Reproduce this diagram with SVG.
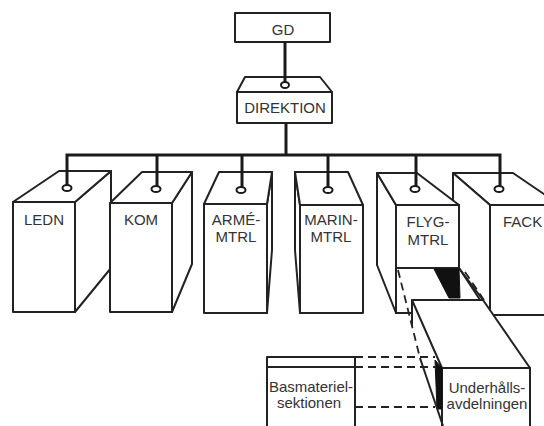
<svg xmlns="http://www.w3.org/2000/svg" width="544" height="426" viewBox="0 0 544 426">
<style>
.b{fill:#fff;stroke:#222;stroke-width:2;stroke-linejoin:round}
.l{fill:none;stroke:#222;stroke-width:2}
.t{font-family:"Liberation Sans",Arial,sans-serif;font-size:15px;fill:#333;text-anchor:middle}
.c{fill:none;stroke:#1a1a1a;stroke-width:3}
.p{fill:#fff;stroke:#1a1a1a;stroke-width:2}
.d{fill:none;stroke:#222;stroke-width:1.8;stroke-dasharray:8 5}
.k{fill:#111;stroke:#111;stroke-width:1}
</style>
<rect width="544" height="426" fill="#fff"/>
<g id="GD">
<rect class="b" x="235" y="13" width="95" height="29"/>
<text class="t" x="283" y="35">GD</text>
</g>
<g id="DIREKTION">
<polygon class="b" points="245,77 320,77 332,92 237,92"/>
<rect class="b" x="237" y="92" width="95" height="31"/>
<text class="t" x="285" y="113">DIREKTION</text>
</g>
<g id="LEDN">
<polygon class="b" points="75,202 111,171 111,268 75,312"/>
<polygon class="b" points="13,202 59,171 111,171 75,202"/>
<rect class="b" x="13" y="202" width="62" height="110"/>
<text class="t" x="44" y="225">LEDN</text>
</g>
<g id="KOM">
<polygon class="b" points="172,203 192,172 192,264 172,312"/>
<polygon class="b" points="110,203 142,172 192,172 172,203"/>
<rect class="b" x="110" y="203" width="62" height="109"/>
<text class="t" x="141" y="225">KOM</text>
</g>
<g id="ARME-MTRL">
<polygon class="b" points="267,204 272,172 272,250 267,313"/>
<polygon class="b" points="204,204 219,172 272,172 267,204"/>
<rect class="b" x="204" y="204" width="63" height="109"/>
<text class="t" x="236" y="225">ARMÉ-</text>
<text class="t" x="236" y="242">MTRL</text>
</g>
<g id="MARIN-MTRL">
<polygon class="b" points="300,205 295,172 295,250 300,313"/>
<polygon class="b" points="295,172 348,172 363,205 300,205"/>
<rect class="b" x="300" y="205" width="63" height="108"/>
<text class="t" x="331" y="225">MARIN-</text>
<text class="t" x="331" y="242">MTRL</text>
</g>
<g id="FACK">
<polygon class="b" points="453,173 513,173 560,205 490,205"/>
<polygon class="b" points="453,173 490,205 490,315 459,268 453,262"/>
<rect class="b" x="490" y="205" width="70" height="110"/>
<text class="t" x="503" y="227" style="text-anchor:start">FACK</text>
</g>
<g id="FLYG-MTRL">
<polygon class="b" points="377,173 396,205 396,313 377,265"/>
<polygon class="b" points="377,173 417,173 459,205 396,205"/>
<rect class="b" x="396" y="205" width="63" height="63"/>
<path class="l" d="M396,268V313H412"/>
<polygon class="k" points="434,269 459,269 460,298 449,298"/>
<text class="t" x="428" y="227">FLYG-</text>
<text class="t" x="428" y="245">MTRL</text>
</g>
<g id="Basmaterielsektionen">
<rect class="b" x="267" y="357" width="88" height="80"/>
<path class="l" d="M267,367H355"/>
<text class="t" x="311" y="392">Basmateriel-</text>
<text class="t" x="309" y="408">sektionen</text>
</g>
<g id="Underhallsavdelningen">
<path class="l" d="M459,268L483,300"/>
<polygon class="b" points="412,300 483,300 530,368 442,368"/>
<rect class="b" x="442" y="368" width="88" height="70"/>
<polygon class="k" points="435,360 442,368 442,409 437,409"/>
<path class="l" d="M412,300V326"/>
<path class="l" d="M420,358L443,426"/>
<text class="t" x="487" y="393">Underhålls-</text>
<text class="t" x="487" y="409">avdelningen</text>
</g>
<g id="guides">
<path class="d" d="M398,270L420,358"/>
<path class="d" d="M465,272L484,300"/>
<path class="d" d="M355,357H435M355,367H435M355,407H435"/>
</g>
<g id="connectors">
<path class="c" d="M285,42V82"/>
<path class="c" d="M286,123V155"/>
<path class="c" d="M67,186V155H500V186"/>
<path class="c" d="M157,155V186M242,155V187M328,155V187M416,155V186"/>
<ellipse class="p" cx="285" cy="85" rx="4" ry="3"/>
<ellipse class="p" cx="67" cy="188" rx="4.5" ry="3"/>
<ellipse class="p" cx="156" cy="189" rx="4.5" ry="3"/>
<ellipse class="p" cx="241" cy="190" rx="4.5" ry="3"/>
<ellipse class="p" cx="328" cy="190" rx="4.5" ry="3"/>
<ellipse class="p" cx="415" cy="189" rx="4.5" ry="3"/>
<ellipse class="p" cx="499" cy="189" rx="4.5" ry="3"/>
</g>
</svg>
